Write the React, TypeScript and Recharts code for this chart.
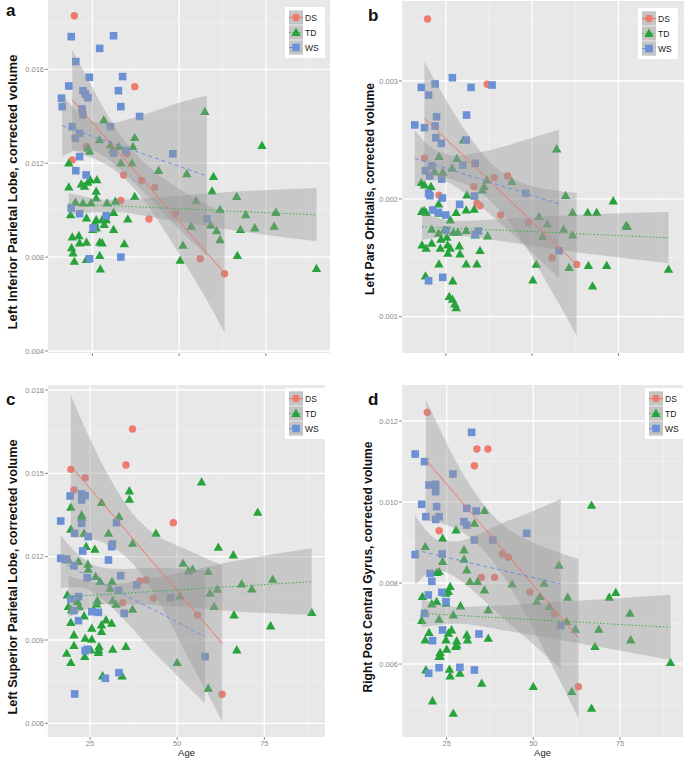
import React from 'react';
import { ComposedChart, Scatter, Area, Line, XAxis, YAxis, CartesianGrid, Legend } from 'recharts';

type P = [number, number];
type B = [number, number, number];

const groups = ['DS', 'TD', 'WS'];
const xTicks = [25, 50, 75];
const xMinor = [12.5, 37.5, 62.5, 87.5];

// ---------- Panel a: Left Inferior Parietal Lobe ----------
const aDS: P[] = [[19.8,0.01828],[37.2,0.01526],[19.2,0.01214],[23.3,0.01271],[34.0,0.01150],[35.0,0.01240],[39.2,0.01126],[43.0,0.01097],[33.2,0.01041],[41.3,0.00962],[49.0,0.00987],[56.1,0.00793],[63.1,0.00729]];
const aTD: P[] = [[18.2,0.01200],[18.2,0.01098],[18.7,0.00980],[19.2,0.00885],[19.0,0.00839],[19.4,0.00817],[19.8,0.00782],[20.1,0.01033],[21.1,0.00891],[21.3,0.00860],[21.8,0.01111],[22.3,0.01030],[22.7,0.01101],[23.3,0.00966],[23.3,0.00863],[23.3,0.00789],[23.7,0.01264],[24.2,0.01250],[23.7,0.01118],[24.4,0.01129],[24.6,0.01030],[25.1,0.00917],[25.7,0.00945],[26.3,0.01129],[26.1,0.01080],[26.1,0.01051],[26.1,0.00959],[26.1,0.00924],[27.0,0.01299],[27.1,0.00863],[27.1,0.00806],[27.3,0.00749],[27.8,0.00959],[27.8,0.00860],[28.3,0.01384],[28.4,0.00938],[29.0,0.00959],[29.2,0.01030],[30.2,0.01278],[30.9,0.01257],[31.1,0.00917],[31.1,0.00990],[31.6,0.01037],[32.6,0.01271],[33.2,0.01200],[34.2,0.00856],[35.2,0.00962],[36.4,0.01200],[36.7,0.01271],[37.2,0.01309],[37.2,0.01058],[44.1,0.01169],[50.3,0.00786],[51.1,0.00850],[52.2,0.01155],[53.5,0.00931],[54.9,0.01040],[57.4,0.01420],[59.1,0.00936],[59.9,0.01143],[59.5,0.01081],[60.8,0.00912],[61.8,0.01002],[61.8,0.00874],[66.6,0.01058],[66.8,0.00806],[67.7,0.00917],[69.2,0.00980],[71.8,0.00924],[73.9,0.01275],[77.4,0.00931],[77.9,0.00990],[89.6,0.00751]];
const aWS: P[] = [[18.9,0.01739],[31.1,0.01743],[27.1,0.01689],[20.2,0.01633],[18.2,0.01529],[24.1,0.01566],[33.7,0.01569],[16.1,0.01477],[16.3,0.01441],[22.3,0.01509],[23.0,0.01494],[23.7,0.01479],[32.5,0.01509],[33.2,0.01441],[22.0,0.01431],[22.3,0.01406],[38.6,0.01399],[30.2,0.01356],[19.2,0.01356],[21.3,0.01328],[20.1,0.01306],[31.1,0.01243],[34.6,0.01254],[48.2,0.01240],[21.3,0.01228],[20.2,0.01168],[23.2,0.01150],[18.9,0.01009],[21.3,0.00985],[25.2,0.00924],[29.0,0.00976],[58.0,0.00963],[24.2,0.00793],[33.2,0.00800]];
const aDSLine: P[] = [[19.2,0.01470],[63.1,0.00732]];
const aTDLine: P[] = [[18.2,0.01027],[89.6,0.00980]];
const aWSLine: P[] = [[16.3,0.01359],[58.0,0.01146]];
const aDSBand: B[] = [[19.2,0.01257,0.01682],[23.5,0.01231,0.01563],[28.3,0.01200,0.01433],[33.0,0.01152,0.01322],[36.9,0.01094,0.01250],[41.7,0.01004,0.01180],[47.4,0.00875,0.01116],[53.2,0.00736,0.01063],[58.0,0.00617,0.01023],[63.1,0.00477,0.00987]];
const aTDBand: B[] = [[18.2,0.00982,0.01073],[30.2,0.00993,0.01044],[46.5,0.00959,0.01058],[65.6,0.00914,0.01078],[89.6,0.00867,0.01094]];
const aWSBand: B[] = [[16.3,0.01227,0.01491],[20.6,0.01253,0.01423],[24.4,0.01254,0.01382],[29.2,0.01220,0.01367],[35.0,0.01145,0.01386],[41.7,0.01047,0.01416],[49.3,0.00929,0.01454],[58.0,0.00806,0.01487]];
const aYTicks = [0.004, 0.008, 0.012, 0.016];
const aYMinor = [0.006, 0.010, 0.014, 0.018];

// ---------- Panel b: Left Pars Orbitalis ----------
const bDS: P[] = [[19.7,0.003526],[37.0,0.002972],[18.8,0.002344],[23.0,0.002032],[33.1,0.002103],[34.0,0.001962],[34.9,0.001942],[39.0,0.002180],[42.9,0.002194],[40.9,0.001863],[48.9,0.001798],[55.8,0.001501],[62.9,0.001444]];
const bTD: P[] = [[23.0,0.002358],[28.2,0.002341],[30.1,0.002499],[26.8,0.002259],[31.1,0.002032],[21.7,0.002230],[24.1,0.002225],[17.9,0.002137],[18.8,0.002117],[20.7,0.002103],[22.9,0.001956],[23.1,0.001877],[18.7,0.001900],[18.0,0.001891],[19.3,0.001883],[26.3,0.001820],[28.0,0.001883],[30.9,0.001905],[33.2,0.001911],[36.1,0.002103],[35.6,0.002075],[36.9,0.002160],[44.1,0.002146],[20.9,0.001741],[22.9,0.001707],[23.6,0.001656],[24.5,0.001735],[25.3,0.001673],[27.2,0.001716],[28.5,0.001716],[30.9,0.001730],[33.5,0.001693],[37.1,0.001685],[18.1,0.001608],[19.3,0.001580],[20.9,0.001622],[23.4,0.001580],[25.5,0.001608],[26.3,0.001580],[25.6,0.001537],[28.9,0.001600],[29.1,0.001532],[23.0,0.001447],[30.9,0.001447],[34.0,0.001447],[34.9,0.001560],[19.1,0.001345],[27.0,0.001303],[26.0,0.001170],[26.9,0.001147],[27.6,0.001107],[28.0,0.001076],[50.2,0.001311],[51.2,0.001444],[52.0,0.001849],[53.0,0.001679],[54.4,0.001786],[57.1,0.002423],[59.7,0.002027],[59.1,0.001741],[61.7,0.001883],[61.7,0.001693],[60.7,0.001416],[66.1,0.001883],[66.3,0.001433],[67.5,0.001260],[68.7,0.001883],[71.6,0.001433],[73.5,0.001982],[77.2,0.001772],[77.6,0.001764],[89.5,0.001402]];
const bWS: P[] = [[26.9,0.003028],[17.9,0.002946],[20.0,0.002881],[21.9,0.002975],[32.3,0.002946],[38.4,0.002966],[16.0,0.002627],[18.8,0.002604],[22.3,0.002697],[21.9,0.002618],[31.0,0.002711],[22.1,0.002519],[23.7,0.002471],[30.9,0.002499],[33.5,0.002301],[29.9,0.002287],[19.1,0.002239],[21.0,0.002279],[20.3,0.002194],[23.8,0.002168],[20.0,0.002047],[20.4,0.002027],[24.0,0.002007],[29.0,0.001953],[33.3,0.002024],[21.2,0.001905],[22.8,0.001885],[25.0,0.001863],[25.1,0.001735],[33.5,0.001699],[34.4,0.001727],[48.1,0.002047],[57.8,0.001560],[24.1,0.001334],[20.0,0.001305]];
const bDSLine: P[] = [[18.8,0.002683],[62.9,0.001444]];
const bTDLine: P[] = [[18.1,0.001764],[89.5,0.001670]];
const bWSLine: P[] = [[16.0,0.002344],[57.8,0.001956]];
const bDSBand: B[] = [[18.8,0.002202,0.003164],[23.4,0.002188,0.002924],[28.2,0.002151,0.002689],[33.0,0.002086,0.002482],[37.8,0.001987,0.002310],[42.7,0.001829,0.002197],[48.4,0.001583,0.002120],[54.2,0.001291,0.002083],[59.1,0.001042,0.002061],[62.9,0.000836,0.002052]];
const bTDBand: B[] = [[18.1,0.001651,0.001877],[28.2,0.001687,0.001812],[42.7,0.001634,0.001832],[61.9,0.001552,0.001863],[89.5,0.001453,0.001888]];
const bWSBand: B[] = [[16.0,0.002103,0.002584],[19.5,0.002157,0.002468],[23.4,0.002157,0.002395],[28.2,0.002095,0.002366],[34.9,0.001942,0.002395],[42.7,0.001744,0.002451],[50.4,0.001532,0.002522],[57.8,0.001328,0.002584]];
const bYTicks = [0.001, 0.002, 0.003];
const bYMinor = [0.0015, 0.0025, 0.0035];

// ---------- Panel c: Left Superior Parietal Lobe ----------
const cDS: P[] = [[19.5,0.015144],[23.6,0.014844],[20.4,0.0144],[37.2,0.016596],[35.3,0.0153],[48.9,0.013224],[39.3,0.011124],[41.1,0.01116],[43.2,0.0105],[34.4,0.010344],[55.8,0.0099],[62.9,0.007044]];
const cTD: P[] = [[19.5,0.013776],[19.5,0.012984],[18.8,0.01188],[18.5,0.01062],[18.8,0.0102],[19.7,0.01008],[19.5,0.009624],[20.4,0.00918],[18.3,0.00852],[19.5,0.008184],[20.4,0.008796],[21.7,0.01182],[21.4,0.01038],[21.9,0.0102],[22.6,0.0135],[22.6,0.013416],[23.3,0.01284],[23.9,0.01236],[24.4,0.011724],[24.5,0.011544],[23.3,0.009864],[23.6,0.00906],[23.5,0.0084],[25.5,0.00942],[25.5,0.009024],[25.2,0.00864],[26.0,0.01008],[26.4,0.012264],[26.6,0.01128],[26.9,0.010296],[27.1,0.010416],[27.6,0.00876],[27.5,0.00864],[27.4,0.008544],[28.3,0.013944],[27.9,0.0111],[28.3,0.00954],[28.3,0.0093],[28.6,0.007704],[29.6,0.00972],[30.3,0.01284],[30.7,0.01086],[31.3,0.0111],[31.5,0.010416],[31.2,0.0096],[31.5,0.008664],[32.5,0.010284],[33.3,0.01344],[34.2,0.007704],[35.3,0.00876],[36.3,0.014364],[36.3,0.014064],[37.2,0.01248],[37.2,0.010104],[43.9,0.01284],[50.0,0.008184],[50.8,0.010584],[51.7,0.01176],[53.2,0.011484],[54.4,0.011544],[57.0,0.014688],[58.9,0.00726],[58.9,0.01146],[59.4,0.01068],[60.6,0.0102],[61.5,0.010824],[61.8,0.012336],[66.1,0.01206],[66.3,0.0099],[67.1,0.00864],[68.5,0.011016],[71.4,0.010836],[73.1,0.013596],[76.8,0.009504],[77.4,0.011184],[88.6,0.009984]];
const cWS: P[] = [[16.6,0.013284],[19.3,0.014184],[22.6,0.014256],[23.6,0.014196],[22.6,0.01404],[20.6,0.01284],[22.6,0.0132],[24.5,0.01272],[22.9,0.012204],[31.4,0.012456],[31.2,0.01236],[30.3,0.01188],[32.6,0.013224],[16.6,0.01194],[18.3,0.011916],[20.4,0.011676],[24.2,0.011244],[33.8,0.011316],[33.2,0.010788],[38.4,0.01098],[48.1,0.010524],[21.7,0.01056],[19.5,0.010476],[20.4,0.010056],[25.5,0.01002],[27.4,0.009996],[21.7,0.009696],[23.6,0.008616],[24.2,0.008664],[33.3,0.007824],[29.4,0.00762],[58.0,0.0084],[20.6,0.007056],[34.8,0.00996]];
const cDSLine: P[] = [[19.5,0.015264],[62.9,0.00888]];
const cTDLine: P[] = [[18.8,0.01056],[88.6,0.0111]];
const cWSLine: P[] = [[16.6,0.01182],[58.0,0.00912]];
const cDSBand: B[] = [[19.5,0.012708,0.01782],[24.0,0.012672,0.016512],[28.8,0.012504,0.015264],[33.6,0.012168,0.014208],[37.4,0.011724,0.013524],[42.2,0.010896,0.012936],[47.9,0.009636,0.012516],[53.6,0.008244,0.012204],[58.5,0.00713,0.011928],[62.9,0.00606,0.0117]];
const cTDBand: B[] = [[18.8,0.009816,0.011304],[30.7,0.010296,0.011016],[47.0,0.010236,0.011316],[66.1,0.010032,0.011832],[88.6,0.0099,0.0123]];
const cWSBand: B[] = [[16.6,0.01086,0.01278],[20.2,0.01092,0.01224],[24.0,0.010836,0.011844],[28.8,0.010452,0.011604],[34.6,0.009756,0.011556],[41.3,0.008832,0.011592],[48.9,0.00786,0.01158],[58.0,0.00672,0.01152]];
const cYTicks = [0.006, 0.009, 0.012, 0.015, 0.018];
const cYMinor = [0.0075, 0.0105, 0.0135, 0.0165];

// ---------- Panel d: Right Post Central Gyrus ----------
const dDS: P[] = [[19.4,0.012214],[33.7,0.011309],[36.9,0.011309],[33.0,0.010897],[22.8,0.009292],[41.1,0.008716],[42.8,0.008634],[35.0,0.00814],[38.8,0.00814],[49.0,0.007778],[56.0,0.007235],[63.0,0.005441]];
const dTD: P[] = [[18.8,0.008897],[18.0,0.007663],[18.6,0.007251],[17.8,0.00707],[18.8,0.006593],[19.9,0.006774],[19.0,0.005852],[20.9,0.005087],[20.7,0.007482],[22.1,0.008255],[22.8,0.00828],[22.1,0.007539],[22.8,0.007103],[23.8,0.009103],[23.8,0.008527],[24.8,0.007745],[25.5,0.007786],[24.8,0.007498],[23.1,0.00628],[22.8,0.006181],[23.1,0.006198],[24.8,0.006593],[25.0,0.006362],[25.5,0.006757],[26.0,0.00791],[26.4,0.00684],[25.8,0.005869],[26.0,0.005704],[26.9,0.004782],[26.9,0.00721],[27.6,0.006428],[27.9,0.00647],[27.9,0.006568],[27.7,0.009309],[28.8,0.00577],[29.0,0.007432],[30.0,0.008815],[30.0,0.008585],[30.8,0.008321],[30.8,0.006716],[31.0,0.006593],[31.7,0.008033],[33.0,0.009473],[33.9,0.008033],[35.9,0.009786],[35.9,0.007827],[37.0,0.007334],[37.0,0.006634],[35.1,0.005523],[43.9,0.007975],[50.0,0.005441],[51.0,0.007539],[51.9,0.007663],[53.1,0.007992],[54.6,0.007416],[57.4,0.008436],[59.6,0.007046],[59.9,0.007646],[61.1,0.005317],[62.1,0.006856],[66.8,0.009918],[66.8,0.004906],[67.8,0.006428],[68.9,0.006856],[71.9,0.007646],[73.8,0.007762],[77.9,0.007251],[78.1,0.006593],[89.6,0.006033]];
const dWS: P[] = [[15.9,0.011185],[18.6,0.010996],[32.2,0.01172],[26.8,0.010691],[19.9,0.01042],[21.8,0.010436],[21.8,0.010255],[17.8,0.009943],[22.1,0.009885],[19.0,0.009638],[21.8,0.009572],[22.8,0.009638],[30.8,0.009844],[33.5,0.009778],[30.0,0.009515],[30.8,0.009432],[33.0,0.009062],[38.3,0.009062],[48.1,0.009227],[15.9,0.0087],[23.7,0.008716],[20.2,0.008239],[20.7,0.008041],[19.7,0.007704],[23.6,0.00777],[24.8,0.00754],[18.6,0.007251],[23.8,0.00684],[20.9,0.006577],[34.3,0.006741],[22.8,0.00591],[28.8,0.005918],[33.0,0.005852],[19.8,0.00577],[57.9,0.006947]];
const dDSLine: P[] = [[19.0,0.011037],[63.0,0.00665]];
const dTDLine: P[] = [[17.8,0.007251],[89.6,0.006906]];
const dWSLine: P[] = [[15.9,0.008815],[57.9,0.007975]];
const dDSBand: B[] = [[19.0,0.009556,0.012518],[23.1,0.009482,0.011786],[27.9,0.009325,0.010971],[32.7,0.009054,0.010288],[37.5,0.008626,0.009745],[42.3,0.008041,0.009358],[48.1,0.007177,0.00907],[53.8,0.006231,0.008864],[58.7,0.005416,0.008708],[63.0,0.004651,0.0086]];
const dTDBand: B[] = [[17.8,0.006906,0.007597],[27.9,0.006996,0.007408],[42.3,0.006823,0.007449],[61.5,0.006535,0.007556],[89.6,0.006099,0.007712]];
const dWSBand: B[] = [[15.9,0.007951,0.009679],[19.2,0.008214,0.009284],[23.1,0.008305,0.009045],[27.9,0.008124,0.009029],[34.6,0.007663,0.009226],[42.3,0.007054,0.009523],[50.0,0.006486,0.009778],[57.9,0.005877,0.010074]];
const dYTicks = [0.006, 0.008, 0.010, 0.012];
const dYMinor = [0.005, 0.007, 0.009, 0.011];

// ---------- styling ----------
const COLORS: Record<string, string> = { DS: '#EF7A6E', TD: '#27A33B', WS: '#6A90D6' };
const LINE_COLORS: Record<string, string> = { DS: '#F07468', TD: '#39B04B', WS: '#6A90E0' };
const DASH: Record<string, string | undefined> = { DS: undefined, TD: '1.5 2', WS: '4 3' };
const FONT = '"Liberation Sans", Arial, sans-serif';

const toPts = (arr: P[]) => arr.map(([x, y]) => ({ x, y }));
const toBand = (arr: B[]) => arr.map(([x, lo, hi]) => ({ x, band: [lo, hi] }));

function Mark({ g, cx, cy }: { g: string; cx: number; cy: number }) {
  const c = COLORS[g];
  if (g === 'DS') return <circle cx={cx} cy={cy} r={3.7} fill={c} />;
  if (g === 'TD')
    return <polygon points={`${cx},${cy - 4.9} ${cx - 4.7},${cy + 3.4} ${cx + 4.7},${cy + 3.4}`} fill={c} />;
  return <rect x={cx - 3.8} y={cy - 3.8} width={7.6} height={7.6} fill={c} />;
}

const LegendBox = () => (
  <div style={{ background: '#fff', padding: '3px 3px 3px 4px', width: 40, boxSizing: 'border-box' }}>
    {groups.map((g) => (
      <div key={g} style={{ display: 'flex', alignItems: 'center', height: 15 }}>
        <svg width={14} height={15} style={{ display: 'block' }}>
          <rect x={0} y={0} width={14} height={15} fill="#ececec" />
          <rect x={0} y={0.5} width={14} height={14} fill="#c4c4c4" />
          <line x1={0} y1={7.5} x2={14} y2={7.5} stroke={LINE_COLORS[g]} strokeWidth={1} strokeDasharray={DASH[g]} />
          <Mark g={g} cx={7} cy={7.5} />
        </svg>
        <span style={{ fontFamily: FONT, fontSize: 8.5, marginLeft: 2, color: '#1a1a1a' }}>{g}</span>
      </div>
    ))}
  </div>
);

interface PanelCfg {
  ds: P[]; td: P[]; ws: P[];
  dsLine: P[]; tdLine: P[]; wsLine: P[];
  dsBand: B[]; tdBand: B[]; wsBand: B[];
  yTicks: number[]; yMinor: number[];
  xDomain: [number, number]; yDomain: [number, number];
  left: number; top: number; plotW: number; plotH: number;
  showX: boolean; legendLeft: number; legendTop: number;
}

function Panel(p: PanelCfg) {
  const yW = 48;
  const xH = p.showX ? 26 : 12;
  const series: [string, P[], P[], B[]][] = [
    ['DS', p.ds, p.dsLine, p.dsBand],
    ['TD', p.td, p.tdLine, p.tdBand],
    ['WS', p.ws, p.wsLine, p.wsBand],
  ];
  return (
    <div style={{ position: 'absolute', left: p.left, top: p.top }}>
      <ComposedChart width={yW + p.plotW} height={p.plotH + xH} margin={{ top: 0, right: 0, bottom: 0, left: 0 }}>
        <CartesianGrid fill="#e8e8e8" stroke="#f4f4f4" strokeWidth={0.6} horizontalValues={p.yMinor} verticalValues={xMinor} />
        <CartesianGrid fill="none" stroke="#ffffff" strokeWidth={1.3} horizontalValues={p.yTicks} verticalValues={xTicks} />
        <XAxis
          type="number"
          dataKey="x"
          domain={p.xDomain}
          ticks={xTicks}
          allowDataOverflow
          axisLine={false}
          tickSize={3}
          tickMargin={1}
          height={xH}
          tickLine={{ stroke: '#888' }}
          tick={{ fontSize: 7.5, fill: '#8a8a8a', fontFamily: FONT }}
          tickFormatter={(v: number) => (p.showX ? String(v) : '')}
          label={p.showX ? { value: 'Age', position: 'insideBottom', offset: 7, style: { fontSize: 9.5, fill: '#222', fontFamily: FONT } } : undefined}
        />
        <YAxis
          type="number"
          dataKey="y"
          domain={p.yDomain}
          ticks={p.yTicks}
          allowDataOverflow
          axisLine={false}
          width={yW}
          tickSize={3}
          tickMargin={1}
          tickLine={{ stroke: '#888' }}
          tick={{ fontSize: 7.5, fill: '#8a8a8a', fontFamily: FONT }}
          tickFormatter={(v: number) => v.toFixed(3)}
        />
        {series.map(([g, pts]) => (
          <Scatter
            key={'s' + g}
            name={g}
            data={toPts(pts)}
            isAnimationActive={false}
            zIndex={50}
            shape={(sp: any) => <Mark g={g} cx={sp.cx} cy={sp.cy} />}
          />
        ))}
        {series.map(([g, , , band]) => (
          <Area
            key={'a' + g}
            data={toBand(band)}
            dataKey="band"
            type="monotone"
            stroke="none"
            fill="#999999"
            fillOpacity={0.4}
            isAnimationActive={false}
            legendType="none"
            zIndex={100}
          />
        ))}
        {series.map(([g, , line]) => (
          <Line
            key={'l' + g}
            data={toPts(line)}
            dataKey="y"
            type="linear"
            stroke={LINE_COLORS[g]}
            strokeWidth={1}
            strokeDasharray={DASH[g]}
            dot={false}
            activeDot={false}
            isAnimationActive={false}
            legendType="none"
            zIndex={150}
          />
        ))}
        <Legend
          layout="vertical"
          align="center"
          verticalAlign="middle"
          content={() => <LegendBox />}
          wrapperStyle={{ left: p.legendLeft, top: p.legendTop, width: 40, height: 51, right: 'auto', bottom: 'auto' }}
        />
      </ComposedChart>
    </div>
  );
}

const panels: PanelCfg[] = [
  { ds: aDS, td: aTD, ws: aWS, dsLine: aDSLine, tdLine: aTDLine, wsLine: aWSLine, dsBand: aDSBand, tdBand: aTDBand, wsBand: aWSBand,
    yTicks: aYTicks, yMinor: aYMinor, xDomain: [12.2, 93.5], yDomain: [0.003915, 0.018952],
    left: 0, top: 0, plotW: 282, plotH: 353, showX: false, legendLeft: 285, legendTop: 7 },
  { ds: bDS, td: bTD, ws: bWS, dsLine: bDSLine, tdLine: bTDLine, wsLine: bWSLine, dsBand: bDSBand, tdBand: bTDBand, wsBand: bWSBand,
    yTicks: bYTicks, yMinor: bYMinor, xDomain: [12.3, 94.0], yDomain: [0.000692, 0.003679],
    left: 354, top: 1, plotW: 282, plotH: 352, showX: false, legendLeft: 284, legendTop: 7 },
  { ds: cDS, td: cTD, ws: cWS, dsLine: cDSLine, tdLine: cTDLine, wsLine: cWSLine, dsBand: cDSBand, tdBand: cTDBand, wsBand: cWSBand,
    yTicks: cYTicks, yMinor: cYMinor, xDomain: [12.95, 92.4], yDomain: [0.005507, 0.01818],
    left: 0, top: 385, plotW: 277, plotH: 352, showX: true, legendLeft: 285, legendTop: 3 },
  { ds: dDS, td: dTD, ws: dWS, dsLine: dDSLine, tdLine: dTDLine, wsLine: dWSLine, dsBand: dDSBand, tdBand: dTDBand, wsBand: dWSBand,
    yTicks: dYTicks, yMinor: dYMinor, xDomain: [12.1, 93.2], yDomain: [0.004198, 0.012889],
    left: 354, top: 385, plotW: 281, plotH: 352, showX: true, legendLeft: 291, legendTop: 3 },
];

const yTitles = [
  { text: 'Left Inferior Parietal Lobe, corrected volume', x: 13, y: 192, len: 275 },
  { text: 'Left Pars Orbitalis, corrected volume', x: 370, y: 189, len: 212 },
  { text: 'Left Superior Parietal Lobe, corrected volume', x: 13, y: 577, len: 275 },
  { text: 'Right Post Central Gyrus, corrected volume', x: 368, y: 567, len: 251 },
];
const letters = [
  { t: 'a', x: 6, y: 16 },
  { t: 'b', x: 368, y: 21 },
  { t: 'c', x: 6, y: 405 },
  { t: 'd', x: 368, y: 405 },
];

export default function App() {
  return (
    <div style={{ position: 'absolute', left: 0, top: 0, width: 685, height: 763, background: '#fff', overflow: 'hidden' }}>
      {panels.map((p, i) => (
        <Panel key={i} {...p} />
      ))}
      <svg width={685} height={763} style={{ position: 'absolute', left: 0, top: 0, pointerEvents: 'none' }}>
        {yTitles.map((t) => (
          <text
            key={t.text}
            x={t.x}
            y={t.y}
            transform={`rotate(-90 ${t.x} ${t.y})`}
            textAnchor="middle"
            dominantBaseline="central"
            fontFamily={FONT}
            fontWeight="bold"
            fontSize={12.5}
            fill="#111"
            textLength={t.len}
            lengthAdjust="spacingAndGlyphs"
          >
            {t.text}
          </text>
        ))}
        {letters.map((l) => (
          <text key={l.t} x={l.x} y={l.y} fontFamily={FONT} fontWeight="bold" fontSize={17} fill="#111">
            {l.t}
          </text>
        ))}
      </svg>
    </div>
  );
}
